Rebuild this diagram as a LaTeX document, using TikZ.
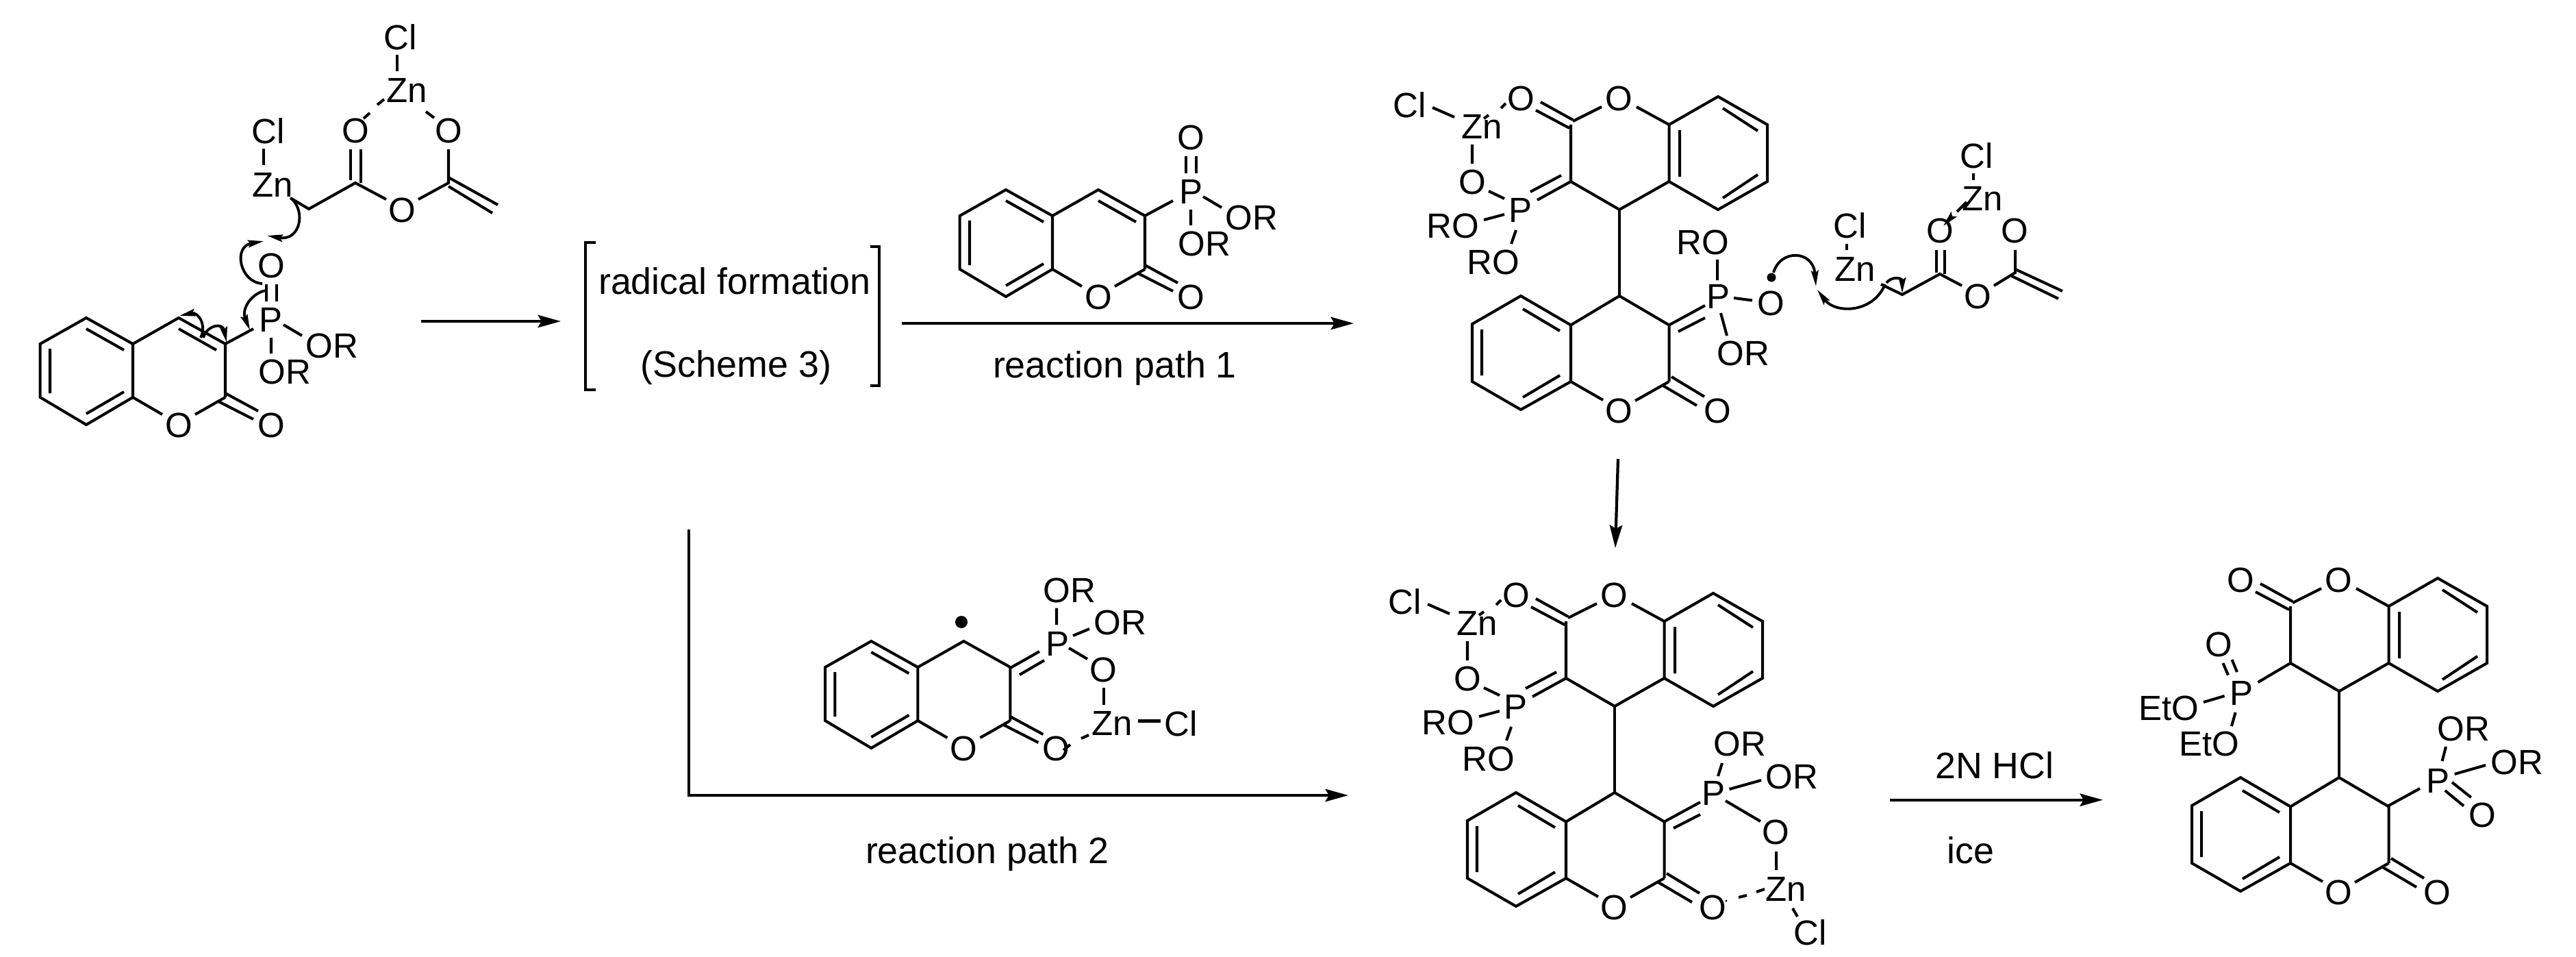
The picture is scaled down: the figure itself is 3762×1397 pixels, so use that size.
\documentclass[tikz,border=0pt]{standalone}
\usepackage{fontspec}
\setmainfont{Liberation Sans}
\usetikzlibrary{arrows.meta}
\tikzset{
  atom/.style={font=\fontsize{14.5}{16}\selectfont, inner sep=0pt, text=black},
  rxlabel/.style={font=\fontsize{15.3}{17}\selectfont, inner sep=0pt, text=black},
  bond/.style={line width=1.15pt, line join=miter, draw=black},
  rxarrow/.style={line width=1.2pt, draw=black, -{Stealth[length=9.5pt,width=5.2pt,inset=1.5pt]}},
  curly/.style={line width=1.1pt, draw=black, -{Stealth[length=6.5pt,width=3pt,inset=1pt]}},
  brack/.style={line width=1.2pt, draw=black},
  raddot/.style={fill=black, draw=none}
}
% coumarin ring, small template (coordinates of the leftmost molecule)
\newcommand{\coumarinA}{%
  \coordinate (c8) at (58.7,502); \coordinate (c7) at (126,464); \coordinate (c4a) at (194,502);
  \coordinate (c8a) at (194,580); \coordinate (c5) at (126,620); \coordinate (c6) at (58.7,580);
  \coordinate (c4) at (261,464); \coordinate (c3) at (329,502); \coordinate (c2) at (329,580);
  \draw[bond] (c8)--(c7)--(c4a)--(c8a)--(c5)--(c6)--cycle;
  \draw[bond] (c4a)--(c4)--(c3)--(c2);
  \draw[bond] (126,480)--(181,511) (73,509)--(73,574) (126,604)--(181,572);
  \draw[bond] (c8a)--(237,605) (285,605)--(c2);
  \draw[bond] (329,574)--(377,600) (319,586)--(370,612);
  \node[atom] (o1) at (261,621) {O};
  \node[atom] (o2) at (396,621) {O};
}
% phosphonate on the small template
\newcommand{\phosA}{%
  \draw[bond] (261,480)--(316,511);
  \draw[bond] (329,502)--(370,480);
  \node[atom] (p) at (396,467) {P};
  \node[atom] (po) at (396,388) {O};
  \node[atom] (or1) at (485,505) {OR};
  \node[atom] (or2) at (416,543) {OR};
  \draw[bond] (389,415)--(389,440) (404,415)--(404,440);
  \draw[bond] (414,474)--(441,490) (396,493)--(396,516);
}
% bis-coumarin skeleton, large template (coordinates of the upper middle molecule)
\newcommand{\skeletonB}{%
  \coordinate (a2) at (2294,182); \coordinate (a3) at (2294,265); \coordinate (a4) at (2365,306);
  \coordinate (a4a) at (2437.5,265); \coordinate (a8a) at (2437.5,182);
  \coordinate (a8) at (2509,141); \coordinate (a7) at (2581,182); \coordinate (a6) at (2581,265); \coordinate (a5) at (2509,306);
  \coordinate (b4) at (2365,432); \coordinate (b3) at (2437.5,474.5); \coordinate (b2) at (2437.5,557);
  \coordinate (b4a) at (2294,474.5); \coordinate (b8a) at (2294,557);
  \coordinate (b5) at (2221,432); \coordinate (b6) at (2150,473); \coordinate (b7) at (2150,557); \coordinate (b8) at (2221,598);
  \draw[bond] (a8a)--(a8)--(a7)--(a6)--(a5)--(a4a)--cycle;
  \draw[bond] (a2)--(a3)--(a4)--(a4a);
  \draw[bond] (a4)--(b4);
  \draw[bond] (2453,190)--(2453,258) (2516,158)--(2567,191) (2516,289)--(2567,255);
  \draw[bond] (2297,175)--(2250,149) (2292,187)--(2243,161);
  \draw[bond] (2297,177)--(2339,156) (2390,156)--(a8a);
  \node[atom] (ao1) at (2364,144) {O};
  \node[atom] (ao2) at (2221,144) {O};
  \draw[bond] (b4a)--(b5)--(b6)--(b7)--(b8)--(b8a)--cycle;
  \draw[bond] (b4a)--(b4)--(b3)--(b2);
  \draw[bond] (2224,451)--(2278,483) (2164,481)--(2164,548) (2224,580)--(2278,548);
  \draw[bond] (b8a)--(2341,584) (2388,585)--(b2);
  \draw[bond] (2441,550)--(2489,579) (2427,562)--(2478,592);
  \node[atom] (bo1) at (2364,600) {O};
  \node[atom] (bo2) at (2508,600) {O};
}
% upper zinc chelate on the large template, and the P= double bond of the lower ring
\newcommand{\chelateB}{%
  \draw[bond] (2294,265)--(2245,292) (2280,256)--(2235,280);
  \node[atom] (p) at (2220,307) {P};
  \node[atom] (o) at (2150,266) {O};
  \node[atom] (zn) at (2164,185) {Zn};
  \node[atom] (cl) at (2059,153) {Cl};
  \node[atom] (ro1) at (2122,330) {RO};
  \node[atom] (ro2) at (2181,383) {RO};
  \draw[bond] (2197,290)--(2174,279) (2150,239)--(2150,211) (2092,157)--(2124,171);
  \draw[bond] (2192,158)--(2199,151) (2167,173)--(2174,168);
  \draw[bond] (2197,313)--(2167,321) (2214,336)--(2207,356);
  \draw[bond] (2437.5,474.5)--(2490,446) (2451,484)--(2490,464);
  \node[atom] (q) at (2509,433) {P};
}
\begin{document}
\begin{tikzpicture}[x=0.01cm,y=-0.01cm]
\useasboundingbox (0,0) rectangle (3762,1397);

% ---------- left molecule ----------
\begin{scope}[name prefix=ma-]
  \coumarinA
  \phosA
  \node[atom] (cl1) at (392,191) {Cl};
  \node[atom] (zn1) at (398,270) {Zn};
  \node[atom] (oc) at (519,191) {O};
  \node[atom] (oe) at (587,307) {O};
  \node[atom] (ov) at (655,191) {O};
  \node[atom] (zn2) at (594,132) {Zn};
  \node[atom] (cl2) at (585,54) {Cl};
  \draw[bond] (385,217)--(385,241);
  \draw[bond] (424,289)--(451,305)--(519,267)--(564,291);
  \draw[bond] (611,291)--(655,267)--(655,218);
  \draw[bond] (512,218)--(512,263) (527,218)--(527,267);
  \draw[bond] (655,259)--(727,299) (655,272)--(719,311);
  \draw[bond] (580,80)--(580,104);
  \draw[bond] (531,173)--(540,165) (551,153)--(561,145) (622,163)--(634,172);
  \draw[curly] (426,290) .. controls (447,310) and (438,352) .. (390,344);
  \draw[curly] (383,414) .. controls (350,412) and (340,360) .. (385,352);
  \draw[curly] (388,424) .. controls (368,428) and (352,450) .. (365,482);
  \draw[curly] (293,493) .. controls (302,475) and (290,455) .. (262,461);
  \draw[curly] (297,493) .. controls (302,475) and (325,470) .. (331,500);
\end{scope}

% ---------- brackets and labels ----------
\node[rxlabel] (rad) at (1073,410) {radical formation};
\node[rxlabel] (sch) at (1075,537) {(Scheme 3)};
\coordinate (bl1) at (870,354); \coordinate (bl2) at (855,354); \coordinate (bl3) at (855,569); \coordinate (bl4) at (870,569);
\coordinate (br1) at (1271,360); \coordinate (br2) at (1284,360); \coordinate (br3) at (1284,563); \coordinate (br4) at (1271,563);
\draw[brack] (bl1)--(bl2)--(bl3)--(bl4);
\draw[brack] (br1)--(br2)--(br3)--(br4);

% ---------- reagent ----------
\begin{scope}[name prefix=mb-, shift={(1343,-187)}]
  \coumarinA
  \phosA
\end{scope}
\node[rxlabel] (path1) at (1628,538) {reaction path 1};

% ---------- radical ----------
\begin{scope}[name prefix=mc-, shift={(1146.4,472)}]
  \coumarinA
\end{scope}
\fill[raddot] (1404,908) circle (9);
\draw[bond] (1475.5,975)--(1518,951) (1489,985)--(1525,964);
\node[atom] (rp) at (1544,939.5) {P};
\node[atom] (ror1) at (1562,862) {OR};
\node[atom] (ror2) at (1636,909) {OR};
\node[atom] (ro) at (1611,978) {O};
\node[atom] (rzn) at (1624.5,1056) {Zn};
\node[atom] (rcl) at (1725,1056) {Cl};
\draw[bond] (1543,887.5)--(1543,912) (1567,928)--(1591,918) (1561,946)--(1588,962);
\draw[bond] (1612,1004)--(1612,1029) (1662,1052.5)--(1695,1052.5);
\draw[bond] (1579,1078)--(1590,1073) (1553,1095)--(1563,1087);
\node[rxlabel] (path2) at (1442,1246.5) {reaction path 2};

% ---------- upper middle product ----------
\begin{scope}[name prefix=md-]
  \skeletonB
  \chelateB
  \node[atom] (ro3) at (2487,354) {RO};
  \node[atom] (o3) at (2586,443) {O};
  \node[atom] (or3) at (2546,516) {OR};
  \draw[bond] (2508,379)--(2508,409) (2532,435)--(2559,438.5) (2513,457)--(2522,490);
  \fill[raddot] (2587,405) circle (6.5);
  \node[atom] (cl1) at (2702,329) {Cl};
  \node[atom] (zn1) at (2709,393) {Zn};
  \node[atom] (oc) at (2833,337) {O};
  \node[atom] (oe) at (2888,433) {O};
  \node[atom] (ov) at (2942,337) {O};
  \node[atom] (zn2) at (2895,290) {Zn};
  \node[atom] (cl2) at (2887,227) {Cl};
  \draw[bond] (2697,356)--(2697,365);
  \draw[bond] (2747,415)--(2778,430)--(2833,400)--(2865,417);
  \draw[bond] (2912,417)--(2943,398)--(2943,365);
  \draw[bond] (2828,365)--(2828,398) (2840,365)--(2840,400);
  \draw[bond] (2943,393)--(3012,425) (2938,403)--(3006,436);
  \draw[bond] (2882,253)--(2882,263);
  \draw[bond] (2858,309)--(2872,295);
  \draw[curly] (2847,320)--(2838,330);
  \draw[curly] (2590,398) .. controls (2600,363) and (2648,365) .. (2652,418);
  \draw[curly] (2753,415) .. controls (2735,458) and (2680,458) .. (2654,423);
  \draw[curly] (2755,413) .. controls (2762,403) and (2778,405) .. (2778,428);
\end{scope}

% ---------- lower middle product ----------
\begin{scope}[name prefix=me-, shift={(-7,725)}]
  \skeletonB
  \chelateB
\end{scope}
\node[atom] (eor1) at (2541,1086) {OR};
\node[atom] (eor2) at (2617,1134) {OR};
\node[atom] (eo) at (2593,1215) {O};
\node[atom] (ezn) at (2608,1298) {Zn};
\node[atom] (ecl) at (2644,1361.5) {Cl};
\draw[bond] (2515,1114)--(2509,1133) (2572,1139)--(2525.5,1152) (2520,1169)--(2571,1199);
\draw[bond] (2594,1243)--(2594,1270) (2618,1326)--(2625,1338);
\draw[bond] (2539,1310)--(2551,1307) (2565,1302)--(2577,1298);
\fill[raddot] (2521,1315) circle (1.6);

% ---------- final product ----------
\begin{scope}[name prefix=mf-, shift={(1051,703)}]
  \skeletonB
\end{scope}
\draw[bond] (3345,968)--(3297.5,996);
\node[atom] (fp1) at (3273,1012) {P};
\node[atom] (fo1) at (3240.6,941) {O};
\node[atom] (feto1) at (3167.5,1034) {EtO};
\node[atom] (feto2) at (3226.6,1086) {EtO};
\draw[bond] (3246.5,968)--(3254,985.5) (3259.6,963)--(3267,981);
\draw[bond] (3248.6,1016)--(3218,1025) (3264.6,1040)--(3259,1060);
\draw[bond] (3487.5,1176.5)--(3534,1151);
\node[atom] (fp2) at (3560,1140) {P};
\node[atom] (for1) at (3598,1064) {OR};
\node[atom] (for2) at (3676,1113) {OR};
\node[atom] (fo2) at (3625,1189.5) {O};
\draw[bond] (3572,1090)--(3566.5,1111) (3630,1117)--(3584.6,1130);
\draw[bond] (3581,1142)--(3608.7,1164) (3570.7,1154)--(3598,1176.5);

% ---------- reaction arrows ----------
\coordinate (a1s) at (615,469); \coordinate (a1e) at (819,469);
\coordinate (a2s) at (1317,472); \coordinate (a2e) at (1977,472);
\coordinate (a3s) at (2363,670); \coordinate (a3e) at (2359,800);
\coordinate (a4s) at (1006,773); \coordinate (a4c) at (1006,1161); \coordinate (a4e) at (1969,1161);
\coordinate (a5s) at (2760,1167.7); \coordinate (a5e) at (3071,1167.7);
\draw[rxarrow] (a1s)--(a1e);
\draw[rxarrow] (a2s)--(a2e);
\draw[rxarrow] (a3s)--(a3e);
\draw[rxarrow] (a4s)--(a4c)--(a4e);
\draw[rxarrow] (a5s)--(a5e);
\node[rxlabel] (hcl) at (2913,1117) {2N HCl};
\node[rxlabel] (ice) at (2878,1241) {ice};
\end{tikzpicture}
\end{document}
